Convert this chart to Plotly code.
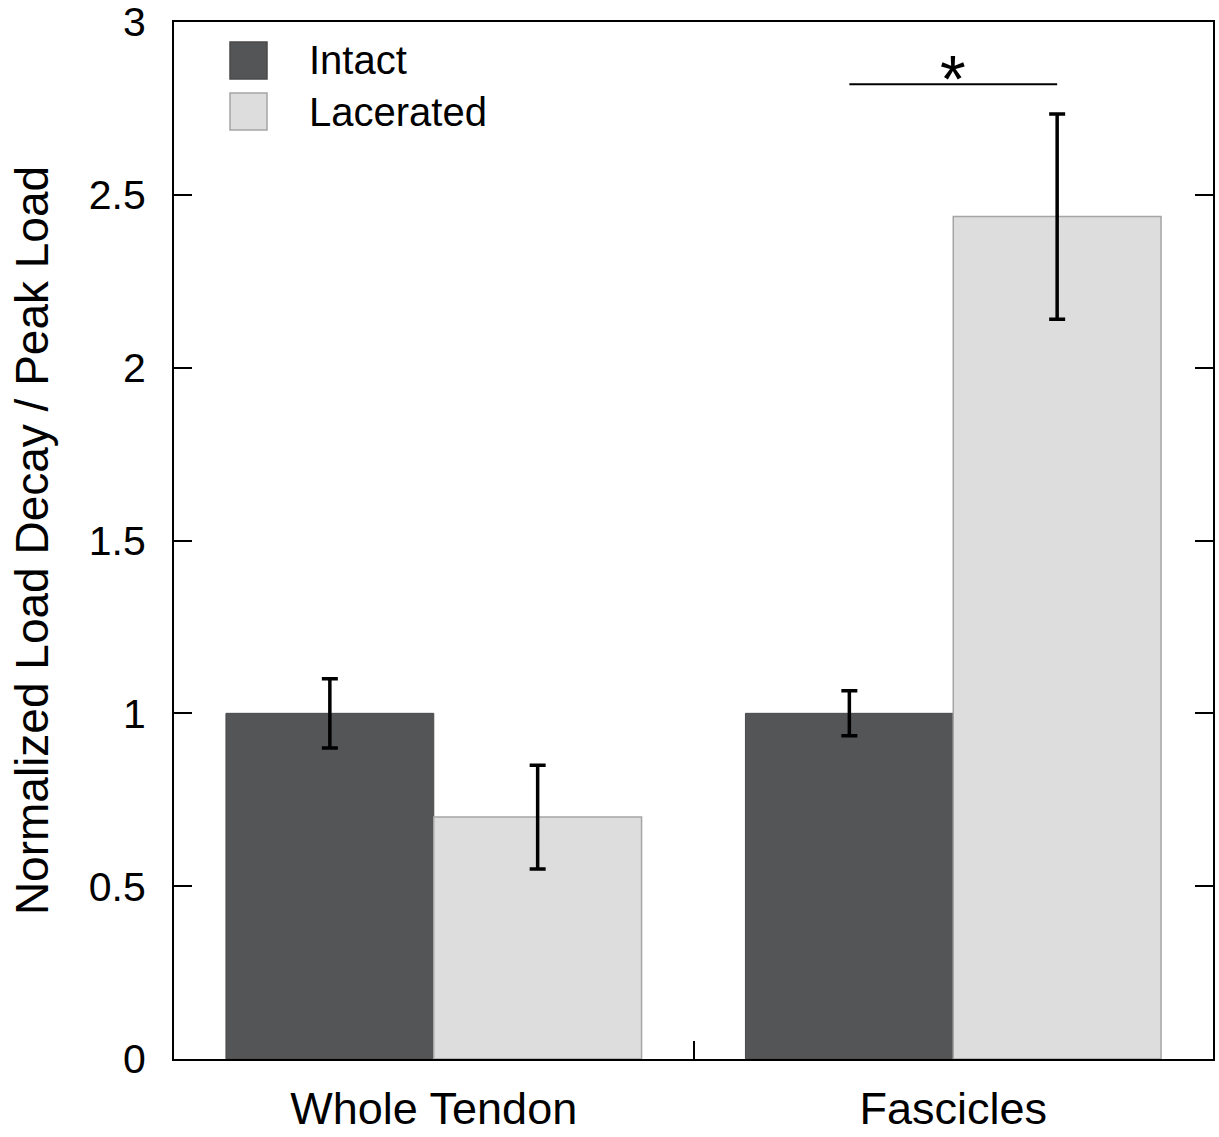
import plotly.graph_objects as go

# ---- data ----
categories = ["Whole Tendon", "Fascicles"]
series_names = ["Intact", "Lacerated"]
intact_mean = [1.0, 1.0]
intact_err = [0.10, 0.065]
lacerated_mean = [0.70, 2.437]
lacerated_err = [0.15, 0.297]
y_ticks = [0, 0.5, 1, 1.5, 2, 2.5, 3]
y_tick_labels = ["0", "0.5", "1", "1.5", "2", "2.5", "3"]
sig_group = 1        # index of category with significance bracket
sig_height = 2.82
sig_label = "*"

# ---- style ----
FONT = "Arial, Liberation Sans, sans-serif"
DARK = "#545557"
LIGHT = "#dcdddc"
BARGAP = 0.2
n_series = 2
bar_w = (1 - BARGAP) / n_series

x_pos = list(range(len(categories)))

# pixel-based layout helpers
W, H = 1219, 1137
L, R, T, B = 174, 1213, 22, 1059


def px(xp):
    return (xp - L) / (R - L)


def py(yp):
    return (B - yp) / (B - T)


fig = go.Figure()
fig.add_trace(go.Bar(
    x=x_pos, y=intact_mean, name=series_names[0],
    marker=dict(color=DARK, line=dict(color="#4a4a4a", width=1)),
    error_y=dict(type="data", array=intact_err, color="black", thickness=3.5, width=8),
    showlegend=False,
))
fig.add_trace(go.Bar(
    x=x_pos, y=lacerated_mean, name=series_names[1],
    marker=dict(color=LIGHT, line=dict(color="#a5a5a5", width=1.5)),
    error_y=dict(type="data", array=lacerated_err, color="black", thickness=3.5, width=8),
    showlegend=False,
))

# significance bracket between the two bars of the group
xs = [sig_group - bar_w / 2, sig_group + bar_w / 2]
fig.add_trace(go.Scatter(
    x=xs, y=[sig_height, sig_height], mode="lines",
    line=dict(color="black", width=2), showlegend=False, hoverinfo="skip",
))
fig.add_annotation(x=sig_group, y=sig_height, text=sig_label, showarrow=False,
                   yanchor="bottom", yshift=-34, font=dict(family=FONT, size=66, color="black"))

# manual legend with large swatches
legend_items = [(series_names[0], DARK, "#4a4a4a", 42, 79, 60),
                (series_names[1], LIGHT, "#a5a5a5", 93, 130, 112)]
for name, fill, edge, y0, y1, yt in legend_items:
    fig.add_shape(type="rect", xref="paper", yref="paper",
                  x0=px(230), x1=px(267), y0=py(y1), y1=py(y0),
                  fillcolor=fill, line=dict(color=edge, width=1.5))
    fig.add_annotation(xref="paper", yref="paper", x=px(307), y=py(yt),
                       xanchor="left", yanchor="middle", text=name, showarrow=False,
                       font=dict(family=FONT, size=40, color="black"))

fig.update_layout(
    width=W, height=H,
    margin=dict(l=L, r=W - R, t=T, b=H - B, autoexpand=False),
    paper_bgcolor="white", plot_bgcolor="white",
    barmode="group", bargap=BARGAP, bargroupgap=0,
    font=dict(family=FONT, color="black"),
    showlegend=False,
)
fig.update_xaxes(
    range=[-0.5, 1.5], tickvals=x_pos, ticktext=categories,
    ticks="", showline=True, linecolor="black", linewidth=2, mirror=True,
    tickfont=dict(family=FONT, size=45, color="black"), ticklabelstandoff=9,
    ticklabeloverflow="allow",
    minor=dict(tickvals=[0.5], ticks="inside", ticklen=18, tickwidth=2, tickcolor="black"),
    showgrid=False, zeroline=False,
)
fig.update_yaxes(
    range=[0, 3], tickvals=y_ticks, ticktext=y_tick_labels,
    ticks="inside", ticklen=18, tickwidth=2, tickcolor="black",
    showline=True, linecolor="black", linewidth=2, mirror="ticks",
    tickfont=dict(family=FONT, size=41, color="black"), ticklabelstandoff=18,
    ticklabeloverflow="allow",
    title=dict(text="Normalized Load Decay / Peak Load",
               font=dict(family=FONT, size=46, color="black"), standoff=26),
    showgrid=False, zeroline=False,
)

fig.write_html("out.html", config={"displayModeBar": False},
               post_script="document.body.style.margin='0';document.body.style.overflow='hidden';")
